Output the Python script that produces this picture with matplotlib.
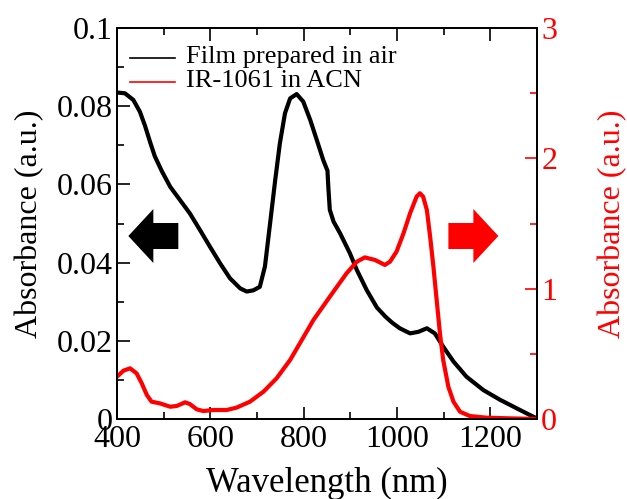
"""Absorbance spectra: film prepared in air vs IR-1061 in ACN (twin y axes)."""
import matplotlib
matplotlib.use('Agg')
import matplotlib.pyplot as plt
from matplotlib.patches import FancyArrow

# Film prepared in air (left axis)
film_nm = [400, 417, 435, 449, 460, 471, 481, 496, 514, 535, 556, 578,
           599, 621, 642, 664, 678, 692, 706, 717, 728, 739, 749, 760,
           771, 785, 799, 814, 828, 842, 851, 853, 856, 864, 878, 899,
           914, 935, 957, 975, 990, 1006, 1028, 1046, 1064, 1081, 1099,
           1121, 1149, 1185, 1221, 1257, 1285, 1299]
film_abs = [0.0835, 0.0833, 0.0816, 0.0786, 0.0750, 0.0708, 0.0672,
            0.0634, 0.0594, 0.0560, 0.0526, 0.0483, 0.0441, 0.0398,
            0.0360, 0.0334, 0.0326, 0.0329, 0.0338, 0.0390, 0.0500,
            0.0611, 0.0705, 0.0782, 0.0820, 0.0831, 0.0812, 0.0765,
            0.0714, 0.0662, 0.0635, 0.0590, 0.0535, 0.0505, 0.0475,
            0.0424, 0.0381, 0.0330, 0.0285, 0.0262, 0.0246, 0.0232,
            0.0219, 0.0223, 0.0232, 0.0219, 0.0185, 0.0147, 0.0108,
            0.0074, 0.0049, 0.0027, 0.0010, 0.0002]

# IR-1061 in ACN (right axis)
dye_nm = [400, 414, 428, 442, 453, 464, 474, 492, 514, 528, 546, 556,
          571, 585, 606, 635, 656, 685, 714, 742, 771, 796, 821, 856,
          892, 914, 931, 953, 974, 985, 999, 1014, 1028, 1042, 1049,
          1056, 1064, 1071, 1078, 1085, 1092, 1099, 1110, 1121, 1135,
          1156, 1192, 1242, 1300]
dye_abs = [0.325, 0.371, 0.389, 0.350, 0.274, 0.184, 0.133, 0.120,
           0.094, 0.100, 0.128, 0.115, 0.074, 0.061, 0.069, 0.069,
           0.087, 0.133, 0.210, 0.312, 0.453, 0.606, 0.760, 0.938,
           1.118, 1.207, 1.240, 1.220, 1.182, 1.207, 1.284, 1.425,
           1.578, 1.706, 1.732, 1.706, 1.604, 1.399, 1.169, 0.913,
           0.658, 0.453, 0.248, 0.133, 0.056, 0.023, 0.010, 0.005, 0.0]

labels = ['Film prepared in air', 'IR-1061 in ACN']

plt.rcParams['font.family'] = ['Liberation Serif', 'DejaVu Serif']

fig = plt.figure(figsize=(6.27, 4.99), dpi=100)
ax = fig.add_axes([117 / 627, 1 - 419 / 499, 420 / 627, 391 / 499])
ax2 = ax.twinx()

ax.plot(film_nm, film_abs, color='black', lw=3.0, solid_joinstyle='round')
ax2.plot(dye_nm, dye_abs, color='red', lw=3.0, solid_joinstyle='round')

ax.set_xlim(400, 1300)
ax.set_ylim(0, 0.1)
ax2.set_ylim(0, 3)
ax.set_xticks([400, 600, 800, 1000, 1200])
ax.set_xticks([500, 700, 900, 1100, 1300], minor=True)
ax.set_yticks([0, 0.02, 0.04, 0.06, 0.08, 0.1])
ax.set_yticklabels(['0', '0.02', '0.04', '0.06', '0.08', '0.1'])
ax.set_yticks([0.01, 0.03, 0.05, 0.07, 0.09], minor=True)
ax2.set_yticks([0, 1, 2, 3])
ax2.set_yticks([0.5, 1.5, 2.5], minor=True)

ax.tick_params(which='both', direction='in', top=True, labelsize=23,
               width=1.2, color='black')
ax.tick_params(which='major', length=9)
ax.tick_params(which='minor', length=5)
ax.tick_params(axis='y', pad=3)
ax.tick_params(axis='x', pad=4)
ax2.tick_params(which='both', direction='in', labelsize=23, width=1.2,
                color='red', labelcolor='red', pad=3)
ax2.tick_params(which='major', length=9)
ax2.tick_params(which='minor', length=5)
for a in (ax, ax2):
    for s in a.spines.values():
        s.set_linewidth(1.3)
        s.set_color('black')

ax.set_xlabel('Wavelength (nm)', fontsize=25, labelpad=10)
ax.set_ylabel('Absorbance (a.u.)', fontsize=23, labelpad=9)
ax2.set_ylabel('Absorbance (a.u.)', fontsize=23, color='red', labelpad=29)

# legend drawn by hand so the rows sit as tight as in the original
for row, (lab, col) in enumerate(zip(labels, ['black', 'red'])):
    yy = 0.923 - row * 0.060
    ax.plot([0.031, 0.138], [yy, yy], color=col, lw=1.2,
            transform=ax.transAxes, clip_on=False)
    ax.text(0.164, yy + 0.002, lab, transform=ax.transAxes, fontsize=19,
            ha='left', va='center')

# direction arrows (axes coordinates)
ax.add_patch(FancyArrow(0.146, 0.468, -0.119, 0, width=0.0665,
                        head_width=0.138, head_length=0.0595,
                        length_includes_head=True, transform=ax.transAxes,
                        color='black', lw=0, zorder=5))
ax.add_patch(FancyArrow(0.789, 0.468, 0.119, 0, width=0.0665,
                        head_width=0.138, head_length=0.0595,
                        length_includes_head=True, transform=ax.transAxes,
                        color='red', lw=0, zorder=5))

fig.savefig('out.png', dpi=100, facecolor='white')
